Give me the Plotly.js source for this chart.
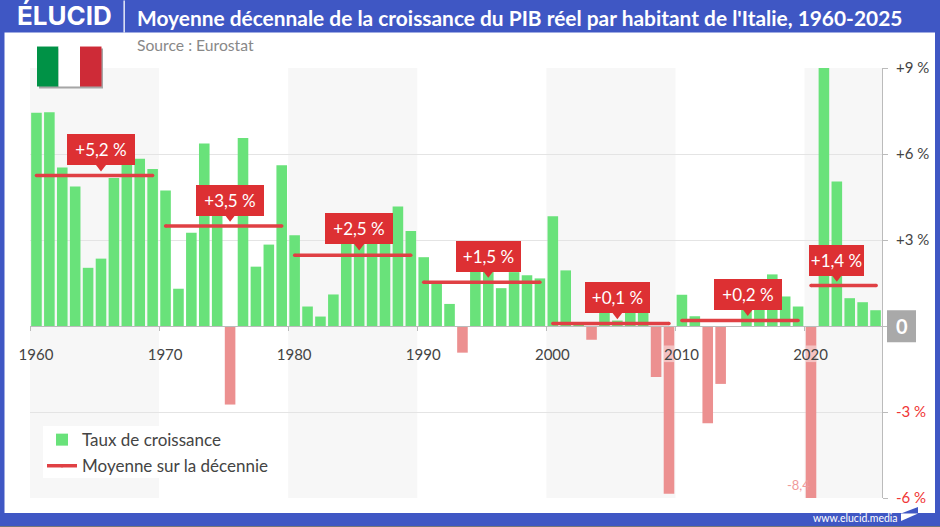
<!DOCTYPE html>
<html>
<head>
<meta charset="utf-8">
<script src="https://cdn.plot.ly/plotly-3.0.1.min.js"></script>
<style>
  html, body { margin: 0; padding: 0; background: #3f57c4; overflow: hidden; }
  #chart { width: 940px; height: 527px; }
</style>
</head>
<body>
<div id="chart"></div>
<script>
var years = [];
for (var yr = 1960; yr <= 2025; yr++) years.push(yr);

// bars hidden behind the red labels are estimates
var growth = [
  7.44, 7.46, 5.53, 4.87, 2.03, 2.35, 5.16, 6.3, 5.83, 5.48,
  4.73, 1.3, 3.25, 6.37, 4.6, -2.74, 6.56, 2.07, 2.84, 5.61,
  3.17, 0.68, 0.33, 1.1, 3.0, 2.9, 2.9, 3.1, 4.17, 3.31,
  2.4, 1.47, 0.77, -0.93, 2.0, 2.8, 1.32, 1.88, 1.77, 1.66,
  3.83, 1.94, 0.1, -0.48, 1.0, 0.19, 1.5, 1.1, -1.78, -5.85,
  1.09, 0.34, -3.39, -2.02, 0, 0.9, 1.4, 1.8, 1.03, 0.68,
  -8.4, 9.2, 5.04, 0.97, 0.83, 0.55
];

var meanStart = [1960.5, 1970.5, 1980.5, 1990.5, 2000.5, 2010.5, 2020.5];
var meanEnd = [1969.5, 1979.5, 1989.5, 1999.5, 2009.5, 2019.5, 2025.55];
var meanValue = [5.25, 3.49, 2.47, 1.53, 0.09, 0.19, 1.41];

var labelText = ['+5,2 %', '+3,5 %', '+2,5 %', '+1,5 %', '+0,1 %', '+0,2 %', '+1,4 %'];
var labelX = [1965.5, 1975.5, 1985.5, 1995.5, 2005.5, 2015.6, 2022.5];
var labelY = [6.14, 4.39, 3.39, 2.44, 0.99, 1.10, 2.30];
var labelWidth = [68, 68, 68, 65, 65, 68, 55];

var bandStart = [1960, 1980, 2000, 2020];
var bandEnd = [1970, 1990, 2010, 2026];

// the pale patch behind the 2010 and 2020 tick labels
var patchYears = [2009, 2020];
var patchBase = [-0.68, -0.68];
var patchHeight = [-0.58, -0.58];

var decadeTicks = [1960, 1970, 1980, 1990, 2000, 2010, 2020];
var yTicks = [9, 6, 3, 0, -3, -6];
var yTickText = ['+9 %', '+6 %', '+3 %', '',
  '<span style="color:#f03535">-3 %</span>', '<span style="color:#f03535">-6 %</span>'];

var GREEN = '#69e27a', PINK = '#ec9090', RED = '#dd3033', BLUE = '#3f57c4';
var FONT = 'Lato, "Open Sans", sans-serif';

// picture pixels to paper fractions, the plot area is 30-882 x 67.5-498
var W = 940, H = 527, L = 30, R = 882, T = 67.5, B = 498;
function px(x) { return (x - L) / (R - L); }
function py(y) { return (B - y) / (B - T); }

function rect(x0, y0, x1, y1, color, layer) {
  return {
    type: 'rect', xref: 'paper', yref: 'paper', layer: layer || 'above',
    x0: px(x0), x1: px(x1), y0: py(y0), y1: py(y1),
    fillcolor: color, line: { width: 0 }
  };
}

function poly(points, color) {
  var d = points.map(function(p, k) {
    return (k ? 'L' : 'M') + px(p[0]) + ',' + py(p[1]);
  }).join(' ') + ' Z';
  return { type: 'path', xref: 'paper', yref: 'paper', layer: 'above', path: d, fillcolor: color, line: { width: 0 } };
}

var barColors = growth.map(function(v) { return v < 0 ? PINK : GREEN; });

var meanX = [], meanY = [];
for (var i = 0; i < meanValue.length; i++) {
  meanX.push(meanStart[i], meanEnd[i], null);
  meanY.push(meanValue[i], meanValue[i], null);
}

var data = [
  {
    type: 'bar', name: 'Taux de croissance', legendgroup: 'a',
    x: years, y: growth,
    offset: 0.09, width: 0.82,
    marker: { color: barColors }
  },
  {
    type: 'bar', showlegend: false,
    x: patchYears, y: patchHeight, base: patchBase,
    offset: 0.09, width: 0.82,
    marker: { color: 'rgba(255,255,255,0.45)' }
  },
  {
    type: 'scatter', mode: 'lines+markers', name: 'Moyenne sur la décennie', legendgroup: 'b',
    x: meanX, y: meanY,
    line: { color: '#e04044', width: 3.5 },
    marker: { color: '#e04044', size: 3.5 }
  },
  {
    // little pointers under the red labels
    type: 'scatter', mode: 'markers', showlegend: false,
    x: labelX,
    y: labelY.map(function(v) { return v - 0.58; }),
    marker: { symbol: 'triangle-down', size: 10, color: RED }
  }
];

var shapes = [rect(4.5, 32, 935, 513, '#ffffff', 'below')];
bandStart.forEach(function(s, k) {
  shapes.push({
    type: 'rect', xref: 'x', yref: 'paper', layer: 'below',
    x0: s, x1: bandEnd[k], y0: 0, y1: 1,
    fillcolor: '#f7f7f7', line: { width: 0 }
  });
});
// header separator
shapes.push(rect(123.5, 0, 124.8, 32, '#ffffff'));
// flag
shapes.push(rect(39, 48, 103, 88, '#a6a6a6'));
shapes.push(rect(37, 46, 58.5, 86, '#009246'));
shapes.push(rect(58.5, 46, 80, 86, '#ffffff'));
shapes.push(rect(80, 46, 101.5, 86, '#ce2b37'));
// legend backing
shapes.push(rect(43, 426, 280, 478, '#ffffff'));
// zero box
shapes.push(rect(887, 310, 916, 342, '#a9a9a9'));
// corner logo and bottom edge
shapes.push(poly([[901, 513.5], [918, 507], [918, 513.5]], BLUE));
shapes.push(poly([[901, 513.5], [918, 513.5], [901, 521]], '#ffffff'));
shapes.push(rect(0, 526, 940, 527, '#777777'));

var annotations = labelText.map(function(t, k) {
  return {
    xref: 'x', yref: 'y', x: labelX[k], y: labelY[k], text: t, showarrow: false,
    width: labelWidth[k], height: 31, bgcolor: RED, borderpad: 0, borderwidth: 0,
    font: { family: FONT, size: 17, color: '#ffffff' }
  };
});

function paperText(x, y, text, size, color, bold, anchor, family) {
  return {
    xref: 'paper', yref: 'paper', x: px(x), y: py(y), showarrow: false,
    borderpad: 0, borderwidth: 0,
    xanchor: anchor || 'left', yanchor: 'middle', text: bold ? '<b>' + text + '</b>' : text,
    font: { family: family || FONT, size: size, color: color }
  };
}

annotations.push(paperText(17, 15, 'ÉLUCID', 26, '#ffffff', true, 'left', 'Inter'));
annotations.push(paperText(137, 17, "Moyenne décennale de la croissance du PIB réel par habitant de l'Italie, 1960-2025", 20.9, '#ffffff', true));
annotations.push(paperText(137, 44, 'Source : Eurostat', 15.7, '#888888'));
annotations.push(paperText(901.5, 326, '0', 20, '#ffffff', true, 'center'));
annotations.push(paperText(787, 485, '-8,4', 13, '#f09a9a'));
annotations.push(paperText(813, 518, 'www.elucid.media', 10.5, '#ffffff'));

var layout = {
  width: W, height: H,
  margin: { l: L, r: W - R, t: T, b: H - B, pad: 0 },
  paper_bgcolor: BLUE,
  plot_bgcolor: 'rgba(0,0,0,0)',
  barmode: 'overlay',
  font: { family: FONT, size: 15, color: '#444444' },
  showlegend: true,
  legend: {
    x: px(42), y: py(422), xanchor: 'left', yanchor: 'top',
    bgcolor: 'rgba(255,255,255,0)',
    font: { family: FONT, size: 17, color: '#444444' },
    traceorder: 'grouped', tracegroupgap: 1
  },
  xaxis: {
    range: [1960, 2026],
    anchor: 'free', position: (B - 325.5) / (B - T),
    tickmode: 'array', tickvals: decadeTicks,
    ticks: 'outside', ticklen: 4, tickcolor: '#bbbbbb',
    showline: true, linecolor: '#bbbbbb', linewidth: 1,
    showgrid: false, zeroline: false,
    ticklabelshift: 6, ticklabelstandoff: 11,
    tickfont: { family: FONT, size: 15, color: '#444444' }
  },
  yaxis: {
    range: [-6, 9], side: 'right',
    tickmode: 'array', tickvals: yTicks, ticktext: yTickText,
    ticks: 'outside', ticklen: 5, tickcolor: '#bbbbbb',
    showline: true, linecolor: '#bbbbbb', linewidth: 1,
    showgrid: true, gridcolor: '#e4e4e4', gridwidth: 1, zeroline: false,
    ticklabelstandoff: 5,
    tickfont: { family: FONT, size: 15, color: '#444444' }
  },
  shapes: shapes,
  annotations: annotations
};

Plotly.newPlot('chart', data, layout, { displayModeBar: false, staticPlot: true });
</script>
</body>
</html>
